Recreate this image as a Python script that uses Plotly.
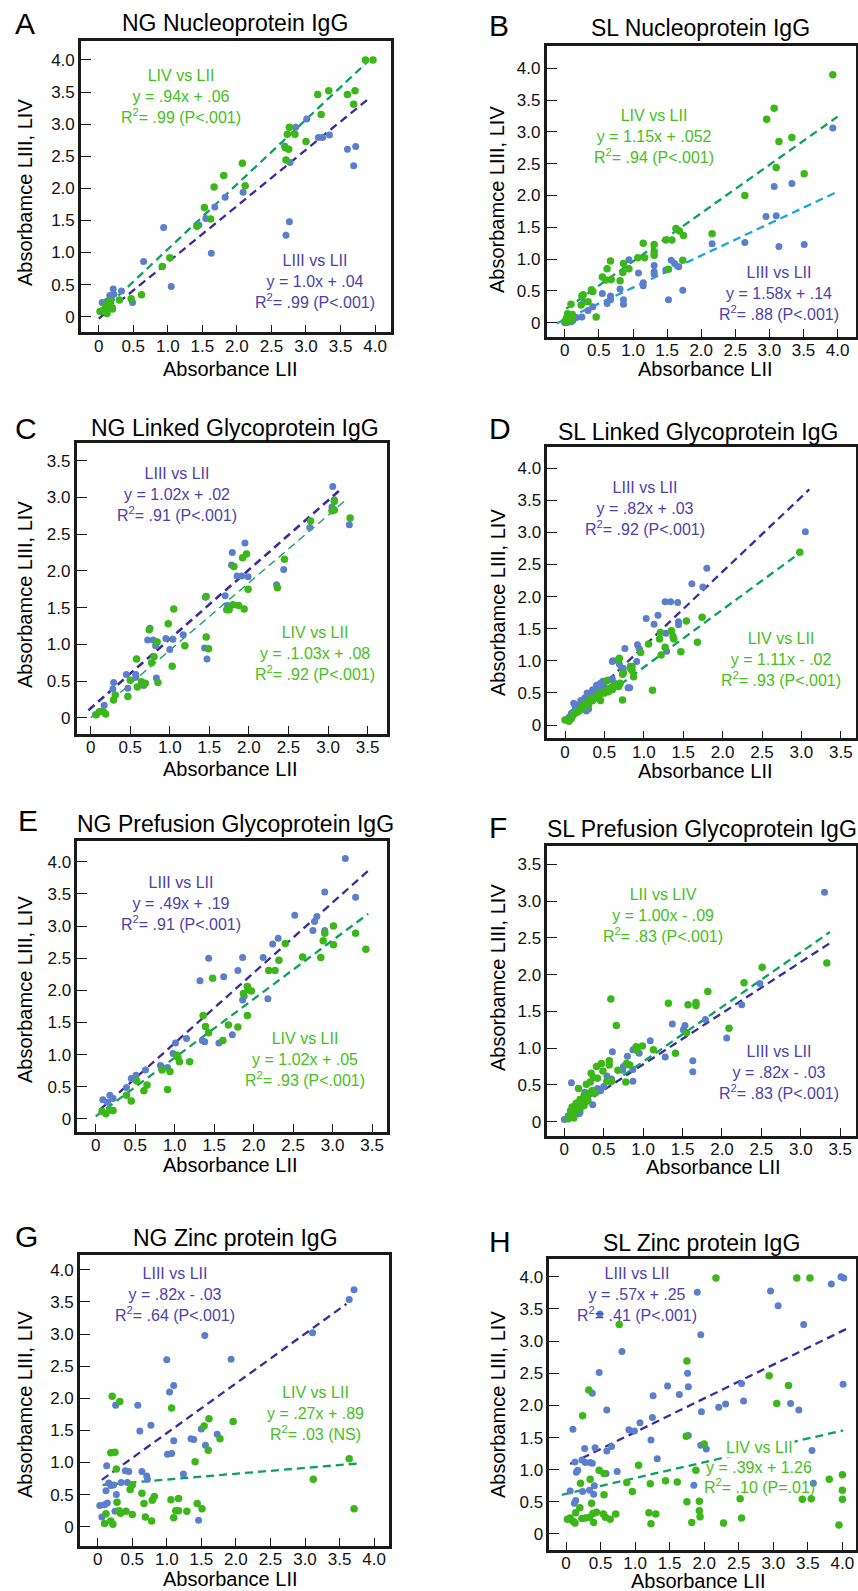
import plotly.graph_objects as go

W, H = 858, 1591
FONT = "Helvetica, Liberation Sans, Arial, sans-serif"

BLUE_PT = "#5b7fcc"
GREEN_PT = "#3cb71a"
PURPLE_LN = "#3a2b9c"
GREEN_LN = "#0aa25e"
CYAN_LN = "#1aa8d8"
PURPLE_TX = "#4d41ab"
GREEN_TX = "#45bf22"

TICKS_40 = [0, 0.5, 1.0, 1.5, 2.0, 2.5, 3.0, 3.5, 4.0]
LABELS_40 = ["0", "0.5", "1.0", "1.5", "2.0", "2.5", "3.0", "3.5", "4.0"]
TICKS_35 = TICKS_40[:-1]
LABELS_35 = LABELS_40[:-1]

# ---------------- Panel A : NG Nucleoprotein IgG ----------------
a_green_x = [3.86, 3.97, 3.17, 3.33, 3.60, 3.71, 3.69, 3.22, 2.76, 2.73, 2.84, 3.00, 2.70, 2.75, 2.71, 2.08, 1.81, 1.67, 2.12, 1.53, 1.62, 1.42, 1.03, 0.92, 0.62, 0.47, 0.30, 0.02, 0.07, 0.14, 0.17, 0.20, 0.12, 0.10, 0.16]
a_green_y = [4.00, 4.00, 3.46, 3.52, 3.46, 3.52, 3.31, 3.15, 2.95, 2.84, 2.84, 2.73, 2.63, 2.61, 2.44, 2.39, 2.20, 2.02, 2.04, 1.70, 1.52, 1.41, 0.92, 0.78, 0.34, 0.28, 0.26, 0.08, 0.10, 0.15, 0.22, 0.12, 0.05, 0.18, 0.25]
a_blue_x = [3.01, 2.85, 2.69, 2.77, 3.18, 3.24, 3.34, 3.60, 3.72, 3.69, 2.76, 2.71, 2.09, 1.83, 1.68, 1.55, 1.45, 0.94, 1.63, 0.65, 1.05, 0.49, 0.33, 0.21, 0.05, 0.16, 0.22, 0.12, 0.07, 0.18, 0.10]
a_blue_y = [3.08, 2.95, 2.66, 2.40, 2.79, 2.79, 2.83, 2.61, 2.65, 2.35, 1.48, 1.27, 1.94, 1.86, 1.71, 1.53, 1.43, 1.39, 0.99, 0.86, 0.47, 0.22, 0.40, 0.43, 0.22, 0.33, 0.35, 0.24, 0.08, 0.30, 0.15]
a_gline_x = [0.01, 3.90]
a_gline_y = [0.05, 3.98]
a_bline_x = [0.0, 3.90]
a_bline_y = [-0.03, 3.39]

# ---------------- Panel B : SL Nucleoprotein IgG ----------------
b_green_x = [3.93, 3.07, 2.96, 3.14, 3.33, 3.10, 3.51, 2.64, 2.16, 1.63, 1.68, 1.74, 1.57, 1.48, 1.31, 1.15, 1.31, 1.31, 1.07, 1.17, 1.52, 1.73, 0.86, 0.67, 0.62, 0.94, 0.85, 0.55, 0.68, 0.60, 0.81, 0.39, 0.41, 0.27, 0.24, 0.34, 0.09, 0.46, 0.25, 0.02, 0.05, 0.08, 0.10, 0.06, 0.00, 0.04, 0.11, 0.03, 0.09]
b_green_y = [3.90, 3.37, 3.20, 2.85, 2.91, 2.44, 2.34, 2.00, 1.40, 1.48, 1.44, 1.37, 1.30, 1.30, 1.23, 1.25, 1.12, 1.06, 1.02, 1.02, 0.84, 0.98, 0.93, 0.97, 0.85, 0.85, 0.79, 0.72, 0.68, 0.67, 0.66, 0.52, 0.49, 0.44, 0.28, 0.33, 0.29, 0.09, 0.42, 0.05, 0.10, 0.12, 0.07, 0.03, 0.02, 0.14, 0.13, 0.08, 0.04]
b_blue_x = [3.93, 3.07, 3.33, 2.95, 3.10, 3.14, 3.51, 2.64, 2.16, 1.56, 1.61, 1.67, 1.48, 1.31, 1.31, 1.31, 0.94, 1.08, 1.15, 1.15, 1.52, 1.73, 0.81, 0.86, 0.86, 0.67, 0.67, 0.62, 0.55, 0.41, 0.34, 0.25, 0.28, 0.02, 0.07, 0.12, 0.05, 0.00, 0.17, 0.10]
b_blue_y = [3.06, 2.14, 2.19, 1.67, 1.68, 1.20, 1.23, 1.26, 1.24, 0.98, 0.93, 0.88, 0.83, 0.90, 0.80, 0.76, 0.99, 0.78, 0.63, 0.58, 0.36, 0.51, 0.53, 0.36, 0.29, 0.42, 0.36, 0.30, 0.46, 0.25, 0.19, 0.09, 0.33, 0.00, 0.01, 0.04, 0.06, 0.00, 0.08, 0.02]
b_gline_x = [0.02, 4.0]
b_gline_y = [0.22, 3.24]
b_bline_x = [-0.12, 4.0]
b_bline_y = [-0.01, 2.06]

# ---------------- Panel C : NG Linked Glycoprotein IgG ----------------
c_blue_x = [3.06, 3.08, 3.05, 3.27, 2.77, 2.44, 2.35, 1.95, 1.79, 1.78, 1.85, 1.91, 1.99, 1.70, 1.73, 1.45, 1.44, 1.47, 1.17, 0.95, 1.04, 1.00, 0.75, 0.72, 0.79, 0.82, 0.83, 0.57, 0.45, 0.57, 0.47, 0.29, 0.28, 0.17, 0.06, 0.67, 0.67]
c_blue_y = [3.15, 2.97, 2.87, 2.63, 2.59, 2.02, 1.81, 2.38, 2.25, 2.08, 1.93, 1.93, 1.92, 1.66, 1.53, 1.64, 0.95, 0.80, 1.13, 1.08, 1.07, 0.93, 1.22, 1.06, 1.06, 0.98, 0.54, 0.59, 0.59, 0.55, 0.40, 0.48, 0.39, 0.17, 0.04, 0.47, 0.44]
c_green_x = [3.08, 3.05, 3.08, 3.28, 2.78, 2.45, 2.36, 1.99, 1.97, 1.92, 1.81, 1.80, 1.87, 1.94, 1.72, 1.75, 1.46, 1.46, 1.49, 1.19, 1.05, 0.98, 1.03, 0.74, 0.84, 0.80, 0.77, 0.58, 0.50, 0.59, 0.64, 0.69, 0.85, 0.47, 0.31, 0.29, 0.16, 0.19, 0.11, 0.07]
c_green_y = [2.83, 2.82, 2.95, 2.72, 2.68, 2.16, 1.77, 1.75, 2.23, 2.18, 2.06, 1.54, 1.53, 1.48, 1.47, 1.47, 1.65, 1.10, 0.94, 0.98, 1.48, 1.28, 0.70, 1.20, 1.03, 0.83, 0.75, 0.80, 0.51, 0.42, 0.49, 0.47, 0.48, 0.29, 0.31, 0.24, 0.08, 0.05, 0.08, 0.04]
c_bline_x = [-0.03, 3.16]
c_bline_y = [0.10, 3.11]
c_gline_x = [0.0, 3.22]
c_gline_y = [0.0, 2.96]

# ---------------- Panel D : SL Linked Glycoprotein IgG ----------------
d_blue_x = [3.05, 1.80, 1.61, 1.75, 1.27, 1.34, 1.43, 1.03, 1.18, 1.13, 1.44, 1.44, 1.28, 0.76, 0.92, 0.94, 1.29, 0.61, 0.69, 0.82, 0.83, 0.91, 0.74, 0.60, 0.41, 0.48, 0.63, 0.29, 0.11, 0.80, 0.72, 0.05, 0.08, 0.10, 0.13, 0.15, 0.18, 0.20, 0.22, 0.25, 0.28, 0.30, 0.33, 0.35, 0.38, 0.40, 0.42, 0.45, 0.48, 0.50, 0.30, 0.55, 0.27, 0.60, 0.50]
d_blue_y = [3.01, 2.44, 2.20, 2.15, 1.92, 1.92, 1.91, 1.66, 1.71, 1.57, 1.61, 1.56, 1.43, 1.19, 1.25, 1.19, 1.15, 1.00, 0.95, 0.58, 0.88, 0.99, 0.88, 0.99, 0.62, 0.67, 0.65, 0.49, 0.34, 0.58, 0.89, 0.12, 0.18, 0.20, 0.28, 0.30, 0.32, 0.38, 0.35, 0.42, 0.50, 0.45, 0.50, 0.55, 0.52, 0.62, 0.58, 0.65, 0.68, 0.60, 0.25, 0.70, 0.22, 0.72, 0.55]
d_green_x = [2.98, 1.74, 1.54, 1.21, 1.35, 1.37, 1.38, 1.20, 1.06, 1.68, 1.27, 1.47, 1.22, 0.96, 0.69, 0.73, 0.85, 0.85, 0.87, 1.11, 0.73, 0.68, 0.83, 0.74, 0.53, 0.62, 0.00, 0.05, 0.08, 0.10, 0.12, 0.15, 0.18, 0.20, 0.22, 0.25, 0.28, 0.30, 0.32, 0.35, 0.38, 0.40, 0.43, 0.45, 0.50, 0.53, 0.55, 0.58, 0.60, 0.62, 0.65, 0.68, 0.70, 0.45]
d_green_y = [2.69, 1.68, 1.62, 1.44, 1.47, 1.38, 1.34, 1.34, 1.26, 1.29, 1.21, 1.14, 1.09, 1.13, 1.04, 0.79, 0.91, 0.85, 0.75, 0.54, 0.39, 1.02, 0.91, 0.81, 0.69, 0.62, 0.08, 0.06, 0.10, 0.15, 0.18, 0.20, 0.22, 0.25, 0.30, 0.28, 0.35, 0.32, 0.40, 0.38, 0.42, 0.45, 0.50, 0.48, 0.50, 0.55, 0.52, 0.58, 0.55, 0.60, 0.62, 0.60, 0.65, 0.38]
d_bline_x = [0.55, 3.10]
d_bline_y = [0.70, 3.67]
d_gline_x = [0.70, 2.98]
d_gline_y = [0.63, 2.68]

# ---------------- Panel E : NG Prefusion Glycoprotein IgG ----------------
e_blue_x = [3.16, 2.90, 3.29, 2.52, 2.80, 2.77, 2.75, 2.90, 2.31, 2.24, 2.12, 1.86, 1.80, 1.62, 1.43, 1.32, 2.18, 1.86, 1.88, 1.15, 1.01, 1.35, 1.38, 1.56, 1.73, 0.98, 0.82, 0.91, 0.63, 0.51, 0.45, 0.39, 0.18, 0.22, 0.09, 0.15]
e_blue_y = [4.05, 3.53, 3.45, 3.17, 3.15, 3.07, 2.93, 2.93, 2.81, 2.72, 2.51, 2.51, 2.31, 2.21, 2.50, 2.15, 1.87, 1.85, 1.91, 1.25, 1.18, 1.22, 1.20, 1.18, 1.31, 1.02, 0.83, 0.80, 0.76, 0.68, 0.63, 0.49, 0.37, 0.32, 0.30, 0.26]
e_green_x = [3.01, 2.90, 3.29, 2.40, 3.01, 2.88, 3.42, 2.62, 2.85, 2.32, 2.19, 2.27, 1.48, 1.92, 1.97, 1.93, 1.87, 1.92, 1.36, 1.39, 1.43, 1.68, 1.80, 1.61, 1.03, 1.04, 1.06, 1.19, 0.84, 0.94, 0.91, 0.52, 0.65, 0.61, 0.39, 0.45, 0.08, 0.13, 0.18, 0.22]
e_green_y = [3.00, 2.89, 2.89, 2.73, 2.71, 2.77, 2.64, 2.52, 2.51, 2.47, 2.31, 2.31, 2.19, 2.06, 1.99, 2.01, 1.95, 1.61, 1.61, 1.44, 1.34, 1.46, 1.43, 1.22, 0.99, 0.96, 0.89, 0.89, 0.76, 0.74, 0.46, 0.59, 0.53, 0.44, 0.37, 0.28, 0.12, 0.08, 0.14, 0.13]
e_bline_x = [0.05, 3.45]
e_bline_y = [0.14, 3.86]
e_gline_x = [0.0, 3.45]
e_gline_y = [0.04, 3.19]

# ---------------- Panel F : SL Prefusion Glycoprotein IgG ----------------
f_blue_x = [3.30, 2.48, 2.25, 1.79, 2.06, 1.53, 1.51, 1.37, 1.63, 1.63, 1.28, 1.09, 0.95, 0.87, 0.80, 0.61, 0.87, 0.87, 0.75, 0.74, 0.09, 0.26, 0.36, 0.46, 0.54, 0.17, 0.00, 0.19, 0.03, 0.05, 0.08, 0.10, 0.12, 0.15, 0.18, 0.20, 0.22, 0.25, 0.28, 0.30, 0.33, 0.38, 0.42, 0.20, 0.15, 0.50, 0.55, 0.60]
f_blue_y = [3.12, 1.88, 1.59, 1.39, 1.14, 1.31, 1.25, 1.33, 0.83, 0.68, 0.88, 1.10, 0.93, 0.98, 0.89, 0.95, 0.71, 0.55, 0.75, 0.70, 0.53, 0.40, 0.23, 0.42, 0.62, 0.12, 0.03, 0.11, 0.04, 0.08, 0.10, 0.12, 0.16, 0.20, 0.22, 0.25, 0.28, 0.30, 0.33, 0.35, 0.38, 0.42, 0.45, 0.13, 0.10, 0.48, 0.55, 0.58]
f_green_x = [3.33, 2.51, 2.28, 1.82, 1.32, 1.57, 1.67, 1.67, 2.09, 1.55, 1.41, 1.13, 0.99, 0.91, 0.92, 0.59, 0.66, 0.79, 0.83, 0.78, 0.68, 0.57, 0.57, 0.47, 0.41, 0.49, 0.34, 0.37, 0.42, 0.28, 0.33, 0.18, 0.39, 0.60, 0.54, 0.05, 0.08, 0.10, 0.12, 0.15, 0.18, 0.20, 0.22, 0.25, 0.28, 0.30, 0.10, 0.15, 0.20, 0.25, 0.30, 0.35, 0.12, 0.08]
f_green_y = [2.16, 2.10, 1.89, 1.77, 1.61, 1.59, 1.62, 1.58, 1.27, 1.21, 0.93, 0.98, 1.03, 1.02, 0.97, 1.67, 1.31, 0.79, 0.77, 0.54, 0.70, 0.83, 0.77, 0.79, 0.75, 0.69, 0.66, 0.60, 0.59, 0.51, 0.54, 0.45, 0.39, 0.55, 0.55, 0.04, 0.06, 0.08, 0.12, 0.15, 0.20, 0.18, 0.25, 0.22, 0.30, 0.28, 0.20, 0.25, 0.30, 0.35, 0.38, 0.42, 0.05, 0.15]
f_gline_x = [0.75, 3.37]
f_gline_y = [0.63, 2.58]
f_bline_x = [0.37, 3.37]
f_bline_y = [0.34, 2.43]

# ---------------- Panel G : NG Zinc protein IgG ----------------
g_blue_x = [3.71, 3.64, 3.11, 1.55, 1.00, 1.93, 1.10, 1.04, 0.26, 0.58, 0.77, 0.61, 1.50, 1.73, 1.10, 1.35, 1.39, 1.56, 1.01, 1.07, 0.13, 0.40, 0.45, 0.64, 0.71, 0.72, 1.24, 0.16, 0.19, 0.23, 0.34, 0.43, 0.12, 0.27, 0.14, 0.10, 0.03, 0.25, 0.06, 1.46]
g_blue_y = [3.69, 3.54, 3.02, 2.98, 2.60, 2.61, 2.20, 2.10, 1.89, 1.89, 1.58, 1.49, 1.52, 1.44, 1.34, 1.37, 1.36, 1.27, 1.13, 1.14, 0.95, 0.87, 0.86, 0.86, 0.79, 0.74, 0.82, 0.68, 0.64, 0.65, 0.69, 0.69, 0.56, 0.50, 0.37, 0.34, 0.33, 0.24, 0.15, 0.10]
g_green_x = [3.64, 3.71, 3.12, 1.96, 1.61, 1.54, 1.77, 1.60, 1.41, 1.07, 0.21, 0.32, 0.19, 0.25, 0.27, 0.50, 0.47, 0.64, 0.82, 0.79, 0.67, 1.06, 1.17, 1.44, 1.51, 1.13, 1.17, 1.29, 1.10, 0.69, 0.78, 0.28, 0.31, 0.33, 0.41, 0.50, 0.12, 0.10, 0.19, 0.22]
g_green_y = [1.06, 0.28, 0.74, 1.64, 1.68, 1.57, 1.37, 1.19, 1.01, 1.85, 2.03, 1.95, 1.15, 1.16, 0.90, 0.65, 0.58, 0.52, 0.47, 0.41, 0.36, 0.42, 0.44, 0.36, 0.28, 0.25, 0.25, 0.24, 0.14, 0.15, 0.09, 0.38, 0.25, 0.21, 0.24, 0.19, 0.20, 0.05, 0.09, 0.04]
g_bline_x = [0.06, 3.60]
g_bline_y = [0.73, 3.47]
g_gline_x = [0.07, 3.82]
g_gline_y = [0.65, 0.99]

# ---------------- Panel H : SL Zinc protein IgG ----------------
h_blue_x = [3.98, 4.02, 3.84, 2.96, 3.07, 3.44, 4.01, 1.90, 1.95, 0.81, 0.48, 0.38, 0.59, 0.10, 0.91, 0.99, 1.07, 1.25, 1.26, 1.47, 1.64, 1.77, 1.76, 1.77, 1.23, 1.32, 1.96, 1.95, 2.03, 2.21, 2.31, 2.54, 2.57, 3.25, 3.37, 3.56, 3.58, 1.85, 0.27, 0.42, 0.66, 0.59, 0.58, 0.74, 0.23, 0.28, 0.38, 0.35, 0.13, 0.17, 0.15, 0.41, 0.34, 0.40, 0.24, 0.06, 0.14, 0.12, 0.49]
h_blue_y = [4.00, 3.98, 3.89, 3.78, 3.55, 3.26, 2.33, 3.76, 3.10, 2.84, 2.51, 2.19, 1.93, 1.63, 1.62, 1.60, 1.73, 1.81, 2.15, 2.30, 2.17, 2.29, 2.50, 1.53, 1.46, 1.17, 1.90, 1.38, 1.32, 1.97, 2.02, 2.34, 2.07, 2.03, 1.93, 1.30, 0.79, 0.76, 1.33, 1.34, 1.36, 1.29, 0.94, 0.97, 1.15, 1.11, 1.10, 1.11, 1.12, 0.99, 0.96, 0.75, 0.68, 0.62, 0.66, 0.67, 0.52, 0.48, 3.42]
h_green_x = [2.17, 3.34, 3.53, 0.77, 0.33, 1.75, 2.94, 3.22, 3.05, 0.24, 1.74, 2.00, 1.88, 1.05, 0.48, 0.55, 0.35, 0.21, 0.88, 0.96, 1.22, 1.44, 1.61, 0.55, 1.75, 1.93, 2.52, 3.42, 3.55, 3.81, 4.00, 4.00, 4.00, 3.95, 0.37, 0.20, 0.14, 0.06, 0.02, 0.10, 0.13, 0.28, 0.34, 0.40, 0.44, 0.54, 0.57, 0.64, 0.72, 0.39, 1.20, 1.30, 1.23, 1.82, 1.93, 1.94, 2.28, 2.54, 0.23]
h_green_y = [3.98, 3.98, 3.98, 3.26, 2.24, 2.69, 2.46, 2.31, 2.03, 1.84, 1.52, 1.40, 0.99, 1.07, 0.99, 0.94, 0.85, 0.79, 0.80, 0.66, 0.78, 0.83, 0.81, 0.61, 0.50, 0.51, 0.55, 0.54, 0.55, 0.85, 0.92, 0.68, 0.54, 0.14, 0.48, 0.41, 0.33, 0.25, 0.23, 0.20, 0.17, 0.25, 0.26, 0.18, 0.34, 0.31, 0.26, 0.23, 0.31, 0.32, 0.33, 0.31, 0.16, 0.18, 0.36, 0.27, 0.17, 0.25, 0.24]
h_bline_x = [0.06, 4.06]
h_bline_y = [1.09, 3.19]
h_gline_x = [-0.06, 4.01]
h_gline_y = [0.61, 1.61]

R2 = "R<sup>2</sup>= "

panels = [
    dict(letter="A", title="NG Nucleoprotein IgG", box=(81, 40.7, 390.7, 332.3),
         xr=[-0.256, 4.226], yr=[-0.243, 4.299], xt=40, yt=40,
         lines=[(a_bline_x, a_bline_y, PURPLE_LN, 2.3), (a_gline_x, a_gline_y, GREEN_LN, 2.3)],
         blue=(a_blue_x, a_blue_y), green=(a_green_x, a_green_y),
         letter_pos=(13, 24), title_pos=(235, 23), xtitle_pos=(230, 369), ytitle_pos=(25, 193),
         texts=[(181, 97, "LIV vs LII<br>y = .94x + .06<br>" + R2 + ".99 (P&lt;.001)", GREEN_TX),
                (315, 281, "LIII vs LII<br>y = 1.0x + .04<br>" + R2 + ".99 (P&lt;.001)", PURPLE_TX)]),
    dict(letter="B", title="SL Nucleoprotein IgG", box=(546.7, 45.7, 856, 336.7),
         xr=[-0.266, 4.27], yr=[-0.22, 4.355], xt=40, yt=40,
         lines=[(b_bline_x, b_bline_y, CYAN_LN, 2.3), (b_gline_x, b_gline_y, GREEN_LN, 2.3)],
         blue=(b_blue_x, b_blue_y), green=(b_green_x, b_green_y),
         letter_pos=(487, 25), title_pos=(700, 28), xtitle_pos=(705, 369), ytitle_pos=(497, 200),
         texts=[(654, 136, "LIV vs LII<br>y = 1.15x + .052<br>" + R2 + ".94 (P&lt;.001)", GREEN_TX),
                (779, 293, "LIII vs LII<br>y = 1.58x + .14<br>" + R2 + ".88 (P&lt;.001)", PURPLE_TX)]),
    dict(letter="C", title="NG Linked Glycoprotein IgG", box=(76.7, 442.7, 386.7, 734),
         xr=[-0.177, 3.742], yr=[-0.222, 3.747], xt=35, yt=35,
         lines=[(c_bline_x, c_bline_y, PURPLE_LN, 2.6), (c_gline_x, c_gline_y, GREEN_LN, 1.3)],
         blue=(c_blue_x, c_blue_y), green=(c_green_x, c_green_y),
         letter_pos=(13, 428), title_pos=(235, 428), xtitle_pos=(230, 769), ytitle_pos=(25, 595),
         texts=[(177, 494, "LIII vs LII<br>y = 1.02x + .02<br>" + R2 + ".91 (P&lt;.001)", PURPLE_TX),
                (315, 653, "LIV vs LII<br>y = .1.03x + .08<br>" + R2 + ".92 (P&lt;.001)", GREEN_TX)]),
    dict(letter="D", title="SL Linked Glycoprotein IgG", box=(547.3, 447.3, 856, 738.3),
         xr=[-0.225, 3.693], yr=[-0.207, 4.326], xt=35, yt=40,
         lines=[(d_bline_x, d_bline_y, PURPLE_LN, 2.3), (d_gline_x, d_gline_y, GREEN_LN, 2.3)],
         blue=(d_blue_x, d_blue_y), green=(d_green_x, d_green_y),
         letter_pos=(487, 428), title_pos=(698, 432), xtitle_pos=(705, 771), ytitle_pos=(498, 603),
         texts=[(645, 509, "LIII vs LII<br>y = .82x + .03<br>" + R2 + ".92 (P&lt;.001)", PURPLE_TX),
                (781, 659, "LIV vs LII<br>y = 1.11x - .02<br>" + R2 + ".93 (P&lt;.001)", GREEN_TX)]),
    dict(letter="E", title="NG Prefusion Glycoprotein IgG", box=(77.3, 841, 386.7, 1131.7),
         xr=[-0.233, 3.684], yr=[-0.198, 4.323], xt=35, yt=40,
         lines=[(e_bline_x, e_bline_y, PURPLE_LN, 2.3), (e_gline_x, e_gline_y, GREEN_LN, 2.3)],
         blue=(e_blue_x, e_blue_y), green=(e_green_x, e_green_y),
         letter_pos=(16, 820), title_pos=(235, 824), xtitle_pos=(230, 1165), ytitle_pos=(25, 990),
         texts=[(181, 903, "LIII vs LII<br>y = .49x + .19<br>" + R2 + ".91 (P&lt;.001)", PURPLE_TX),
                (305, 1059, "LIV vs LII<br>y = 1.02x + .05<br>" + R2 + ".93 (P&lt;.001)", GREEN_TX)]),
    dict(letter="F", title="SL Prefusion Glycoprotein IgG", box=(547.3, 845.7, 856, 1136),
         xr=[-0.216, 3.70], yr=[-0.195, 3.755], xt=35, yt=35,
         lines=[(f_bline_x, f_bline_y, PURPLE_LN, 2.3), (f_gline_x, f_gline_y, GREEN_LN, 2.3)],
         blue=(f_blue_x, f_blue_y), green=(f_green_x, f_green_y),
         letter_pos=(487, 827), title_pos=(702, 829), xtitle_pos=(713, 1167), ytitle_pos=(498, 978),
         texts=[(663, 916, "LII vs LIV<br>y = 1.00x - .09<br>" + R2 + ".83 (P&lt;.001)", GREEN_TX),
                (779, 1072, "LIII vs LII<br>y = .82x - .03<br>" + R2 + ".83 (P&lt;.001)", PURPLE_TX)]),
    dict(letter="G", title="NG Zinc protein IgG", box=(80, 1255, 389.3, 1545.7),
         xr=[-0.256, 4.22], yr=[-0.296, 4.232], xt=40, yt=40,
         lines=[(g_bline_x, g_bline_y, PURPLE_LN, 2.3), (g_gline_x, g_gline_y, GREEN_LN, 2.3)],
         blue=(g_blue_x, g_blue_y), green=(g_green_x, g_green_y),
         letter_pos=(13, 1236), title_pos=(235, 1238), xtitle_pos=(230, 1579), ytitle_pos=(25, 1405),
         texts=[(175, 1294, "LIII vs LII<br>y = .82x - .03<br>" + R2 + ".64 (P&lt;.001)", PURPLE_TX),
                (315, 1413, "LIV vs LII<br>y = .27x + .89<br>" + R2 + ".03 (NS)", GREEN_TX)]),
    dict(letter="H", title="SL Zinc protein IgG", box=(549.3, 1259, 856, 1550),
         xr=[-0.242, 4.197], yr=[-0.249, 4.277], xt=40, yt=40,
         lines=[(h_bline_x, h_bline_y, PURPLE_LN, 2.3), (h_gline_x, h_gline_y, GREEN_LN, 2.3)],
         blue=(h_blue_x, h_blue_y), green=(h_green_x, h_green_y),
         letter_pos=(487, 1241), title_pos=(701, 1243), xtitle_pos=(698, 1581), ytitle_pos=(498, 1405),
         texts=[(637, 1294, "LIII vs LII<br>y = .57x + .25<br>" + R2 + ".41 (P&lt;.001)", PURPLE_TX),
                (759, 1447, "LIV vs LII", GREEN_TX, "white"),
                (759, 1467, "y = .39x + 1.26", GREEN_TX),
                (759, 1486, R2 + ".10 (P=.01)", GREEN_TX)]),
]


def px(x):
    return x / W


def py(y):
    return 1 - y / H


fig = go.Figure()
layout = dict(width=W, height=H, margin=dict(l=0, r=0, t=0, b=0),
              paper_bgcolor="white", plot_bgcolor="white", showlegend=False,
              font=dict(family=FONT, color="#111"))
annotations = []

for i, p in enumerate(panels, start=1):
    sfx = "" if i == 1 else str(i)
    xa, ya = "x" + sfx, "y" + sfx
    l, t, r, b = p["box"]
    xt = (TICKS_40, LABELS_40) if p["xt"] == 40 else (TICKS_35, LABELS_35)
    yt = (TICKS_40, LABELS_40) if p["yt"] == 40 else (TICKS_35, LABELS_35)
    common = dict(showline=True, mirror=True, linecolor="#1a1a1a", linewidth=2.6,
                  ticks="inside", tickwidth=1.4, tickcolor="#1a1a1a",
                  showgrid=False, zeroline=False, tickfont=dict(size=17, color="#111", family=FONT))
    layout["xaxis" + sfx] = dict(domain=[px(l), px(r)], range=p["xr"], anchor=ya,
                                 tickvals=xt[0], ticktext=xt[1], ticklen=8,
                                 ticklabelstandoff=-4, **common)
    layout["yaxis" + sfx] = dict(domain=[py(b), py(t)], range=p["yr"], anchor=xa,
                                 tickvals=yt[0], ticktext=yt[1], ticklen=10, **common)
    for lx, ly, col, wd in p["lines"]:
        fig.add_trace(go.Scatter(x=lx, y=ly, mode="lines", xaxis=xa, yaxis=ya,
                                 line=dict(color=col, width=wd, dash="8px,5px"), hoverinfo="skip"))
    fig.add_trace(go.Scatter(x=p["blue"][0], y=p["blue"][1], mode="markers", xaxis=xa, yaxis=ya,
                             marker=dict(color=BLUE_PT, size=7, line=dict(width=0))))
    fig.add_trace(go.Scatter(x=p["green"][0], y=p["green"][1], mode="markers", xaxis=xa, yaxis=ya,
                             marker=dict(color=GREEN_PT, size=7.5, line=dict(width=0))))

    lx_, ly_ = p["letter_pos"]
    annotations.append(dict(x=px(lx_), y=py(ly_), xref="paper", yref="paper", text=p["letter"],
                            showarrow=False, xanchor="left", yanchor="middle",
                            font=dict(size=30, color="#000", family=FONT)))
    tx, ty = p["title_pos"]
    annotations.append(dict(x=px(tx), y=py(ty), xref="paper", yref="paper", text=p["title"],
                            showarrow=False, xanchor="center", yanchor="middle",
                            font=dict(size=23, color="#000", family=FONT)))
    xx, xy = p["xtitle_pos"]
    annotations.append(dict(x=px(xx), y=py(xy), xref="paper", yref="paper", text="Absorbance LII",
                            showarrow=False, xanchor="center", yanchor="middle",
                            font=dict(size=20, color="#000", family=FONT)))
    yx, yy = p["ytitle_pos"]
    annotations.append(dict(x=px(yx), y=py(yy), xref="paper", yref="paper", text="Absorbamce LIII, LIV",
                            showarrow=False, xanchor="center", yanchor="middle", textangle=-90,
                            font=dict(size=20, color="#000", family=FONT)))
    for item in p["texts"]:
        ax_, ay_, txt, col = item[:4]
        ann = dict(x=px(ax_), y=py(ay_), xref="paper", yref="paper", text=txt,
                   showarrow=False, xanchor="center", yanchor="middle", align="center",
                   font=dict(size=16, color=col, family=FONT))
        if len(item) > 4:
            ann["bgcolor"] = item[4]
        annotations.append(ann)

layout["annotations"] = annotations
fig.update_layout(**layout)
fig.write_html("out.html")
